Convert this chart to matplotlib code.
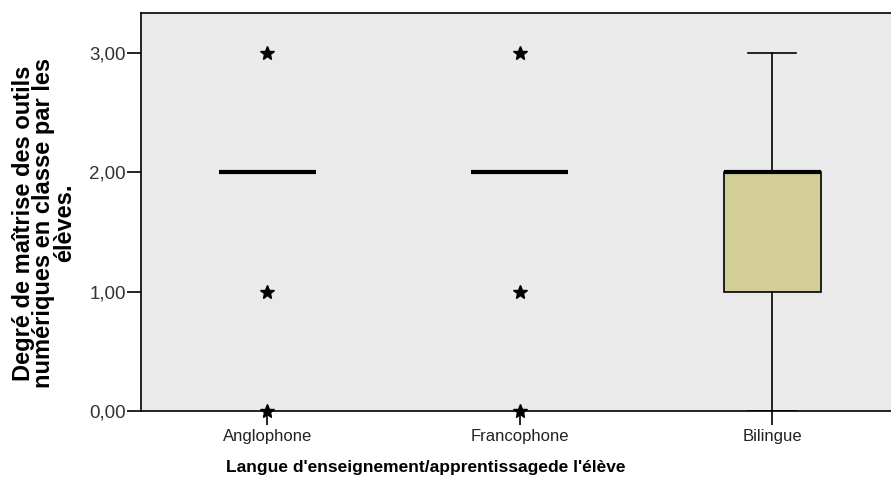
import matplotlib.pyplot as plt

plt.rcParams['font.family'] = ['Liberation Sans', 'DejaVu Sans']

# données
categories = ['Anglophone', 'Francophone', 'Bilingue']
q1 = [2.0, 2.0, 1.0]
medians = [2.0, 2.0, 2.0]
q3 = [2.0, 2.0, 2.0]
whislo = [2.0, 2.0, 0.0]
whishi = [2.0, 2.0, 3.0]
extremes = [[3.0, 1.0, 0.0], [3.0, 1.0, 0.0], []]
y_ticks = [0.0, 1.0, 2.0, 3.0]
y_ticklabels = ['0,00', '1,00', '2,00', '3,00']

stats = []
for i, name in enumerate(categories):
    stats.append({'label': name, 'q1': q1[i], 'med': medians[i], 'q3': q3[i],
                  'whislo': whislo[i], 'whishi': whishi[i], 'fliers': extremes[i]})

fig = plt.figure(figsize=(8.91, 4.86), dpi=100)
ax = fig.add_axes([0.1582, 0.1543, 0.8418, 0.819])
ax.set_facecolor('#EAEAEA')

parts = ax.bxp(stats, positions=range(len(categories)), widths=0.383, patch_artist=True,
               boxprops=dict(facecolor='#D3CE98', edgecolor='black', linewidth=1.2),
               medianprops=dict(color='black', linewidth=3.0, solid_capstyle='butt'),
               whiskerprops=dict(color='black', linewidth=1.2),
               capprops=dict(color='black', linewidth=1.2),
               capwidths=0.19,
               flierprops=dict(marker='*', markerfacecolor='black', markeredgecolor='black',
                               markersize=10, linestyle='none'),
               zorder=3)
for fl in parts['fliers']:
    fl.set_clip_on(False)
    fl.set_zorder(5)

ax.set_xlim(-0.5, 2.47)
ax.set_ylim(0, 3.335)
ax.set_yticks(y_ticks)
ax.set_yticklabels(y_ticklabels, fontsize=13.5, color='#333333')
ax.set_xticks(range(len(categories)))
ax.set_xticklabels(categories, fontsize=12, color='#222222')
ax.tick_params(axis='both', direction='out', length=10, width=1.2, pad=1)
ax.tick_params(axis='x', pad=3)

for side in ['left', 'bottom', 'top']:
    ax.spines[side].set_linewidth(1.2)
ax.spines['right'].set_visible(False)

fig.text(425.5 / 891, 1 - 467 / 486, "Langue d'enseignement/apprentissagede l'élève",
         fontsize=12.5, fontweight='bold', ha='center', va='center')
fig.text(44 / 891, 1 - 223 / 486,
         "Degré de maîtrise des outils\nnumériques en classe par les\nélèves.",
         fontsize=17, fontweight='bold', ha='center', va='center', rotation=90,
         multialignment='center', linespacing=0.88)

fig.savefig('out.png', dpi=100)
